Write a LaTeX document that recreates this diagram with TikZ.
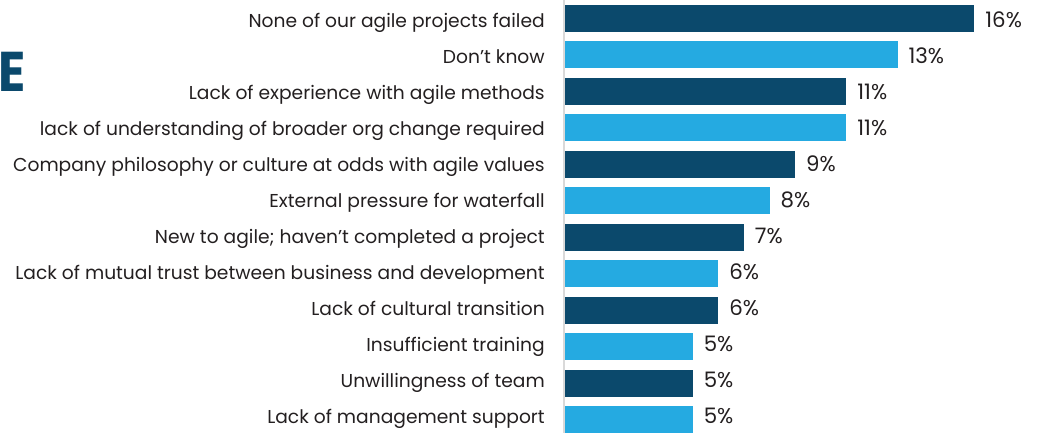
\documentclass[tikz,border=0pt]{standalone}
\usepackage{fontspec}
\setmainfont{Poppins}
\definecolor{navy}{HTML}{0B496C}
\definecolor{sky}{HTML}{25AAE1}
\definecolor{ink}{HTML}{231F20}
\tikzset{
  bar/.style={anchor=west, inner sep=0pt, minimum height=20.25pt},
  lab/.style={anchor=base east, inner sep=0pt, text=ink, font=\fontsize{14pt}{16pt}\selectfont},
  pct/.style={anchor=base west, inner sep=0pt, text=ink, font=\fontsize{16pt}{18pt}\selectfont},
}
\begin{document}
\begin{tikzpicture}[x=0.75pt,y=-0.75pt]
    \useasboundingbox (0,0) rectangle (1044,433);
    \node[anchor=base west, inner sep=0pt, text=navy, font=\fontsize{42pt}{44pt}\selectfont\bfseries, xscale=0.9] (title) at (-2,91) {E};
    \draw[gray!30, line width=1.5pt] (563.5,0) -- (563.5,433);
    \foreach \i/\txt/\val/\col in {
        1/None of our agile projects failed/16/navy,
        2/Don’t know/13/sky,
        3/Lack of experience with agile methods/11/navy,
        4/lack of understanding of broader org change required/11/sky,
        5/Company philosophy or culture at odds with agile values/9/navy,
        6/External pressure for waterfall/8/sky,
        7/New to agile; haven’t completed a project/7/navy,
        8/Lack of mutual trust between business and development/6/sky,
        9/Lack of cultural transition/6/navy,
        10/Insufficient training/5/sky,
        11/Unwillingness of team/5/navy,
        12/Lack of management support/5/sky}{
        \node[bar, fill=\col, minimum width={\val*19.2pt}] (bar\i) at (564.5,{18.5+36.45*(\i-1)}) {};
        \node[lab] (lab\i) at (545,{27+36.03*(\i-1)}) {\txt};
        \node[pct] (pct\i) at ({575.5+25.6*\val},{27.5+36.03*(\i-1)}) {\val\%};
    }
\end{tikzpicture}
\end{document}
